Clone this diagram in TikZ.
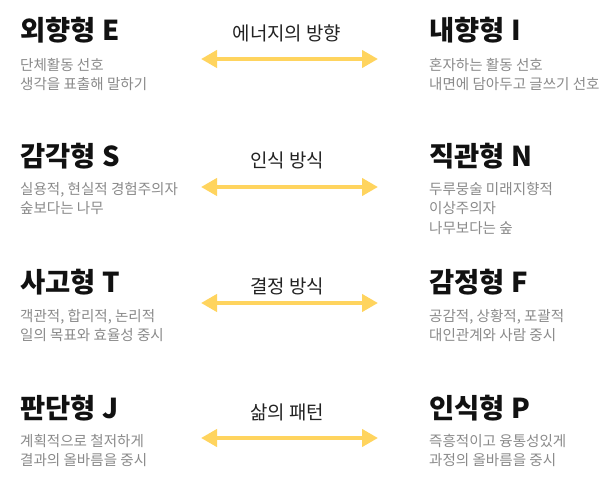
\documentclass[tikz,border=0pt]{standalone}
\usepackage{fontspec}
\usetikzlibrary{arrows.meta}
\newfontfamily\kr{Noto Sans CJK KR}
\definecolor{arrowyellow}{HTML}{FFD45E}
\definecolor{subgray}{HTML}{8A8A8A}
\definecolor{titleblack}{HTML}{111111}
\definecolor{labelblack}{HTML}{222222}
\tikzset{
  titlenode/.style={anchor=west, inner sep=0pt, text=titleblack, font=\kr\bfseries\fontsize{27.5}{30}\selectfont},
  subnode/.style={anchor=north west, inner sep=0pt, align=left, text=subgray, font=\kr\fontsize{14.6}{19.5}\selectfont},
  labelnode/.style={anchor=center, inner sep=0pt, text=labelblack, font=\kr\fontsize{19}{22}\selectfont},
  dblarrow/.style={{Triangle[length=16bp,width=17bp]}-{Triangle[length=16bp,width=17bp]}, line width=4.7bp, draw=arrowyellow}
}
\begin{document}
\begin{tikzpicture}[x=1bp,y=-1bp]
\useasboundingbox[fill=white] (0,0) rectangle (616,493);
% row 1
\node[titlenode] (t1l) at (20,30) {외향형 E};
\node[subnode] (s1l) at (20,58) {단체활동 선호\\생각을 표출해 말하기};
\node[labelnode] (l1) at (287,33) {에너지의 방향};
\node[titlenode] (t1r) at (429,30) {내향형 I};
\node[subnode] (s1r) at (429,58) {혼자하는 활동 선호\\내면에 담아두고 글쓰기 선호};
\coordinate (a1l) at (201,59);
\coordinate (a1r) at (378,59);
\draw[dblarrow] (a1l) -- (a1r);
% row 2
\node[titlenode] (t2l) at (20,156) {감각형 S};
\node[subnode] (s2l) at (20,182) {실용적, 현실적 경험주의자\\숲보다는 나무};
\node[labelnode] (l2) at (287,160) {인식 방식};
\node[titlenode] (t2r) at (429,156) {직관형 N};
\node[subnode] (s2r) at (429,182) {두루뭉술 미래지향적\\이상주의자\\나무보다는 숲};
\coordinate (a2l) at (201,187);
\coordinate (a2r) at (378,187);
\draw[dblarrow] (a2l) -- (a2r);
% row 3
\node[titlenode] (t3l) at (20,282) {사고형 T};
\node[subnode] (s3l) at (20,309) {객관적, 합리적, 논리적\\일의 목표와 효율성 중시};
\node[labelnode] (l3) at (287,286) {결정 방식};
\node[titlenode] (t3r) at (429,282) {감정형 F};
\node[subnode] (s3r) at (429,309) {공감적, 상황적, 포괄적\\대인관계와 사람 중시};
\coordinate (a3l) at (201,303);
\coordinate (a3r) at (378,303);
\draw[dblarrow] (a3l) -- (a3r);
% row 4
\node[titlenode] (t4l) at (20,408) {판단형 J};
\node[subnode] (s4l) at (20,434) {계획적으로 철저하게\\결과의 올바름을 중시};
\node[labelnode] (l4) at (287,412) {삶의 패턴};
\node[titlenode] (t4r) at (429,408) {인식형 P};
\node[subnode] (s4r) at (429,434) {즉흥적이고 융통성있게\\과정의 올바름을 중시};
\coordinate (a4l) at (201,438);
\coordinate (a4r) at (378,438);
\draw[dblarrow] (a4l) -- (a4r);
\end{tikzpicture}
\end{document}
